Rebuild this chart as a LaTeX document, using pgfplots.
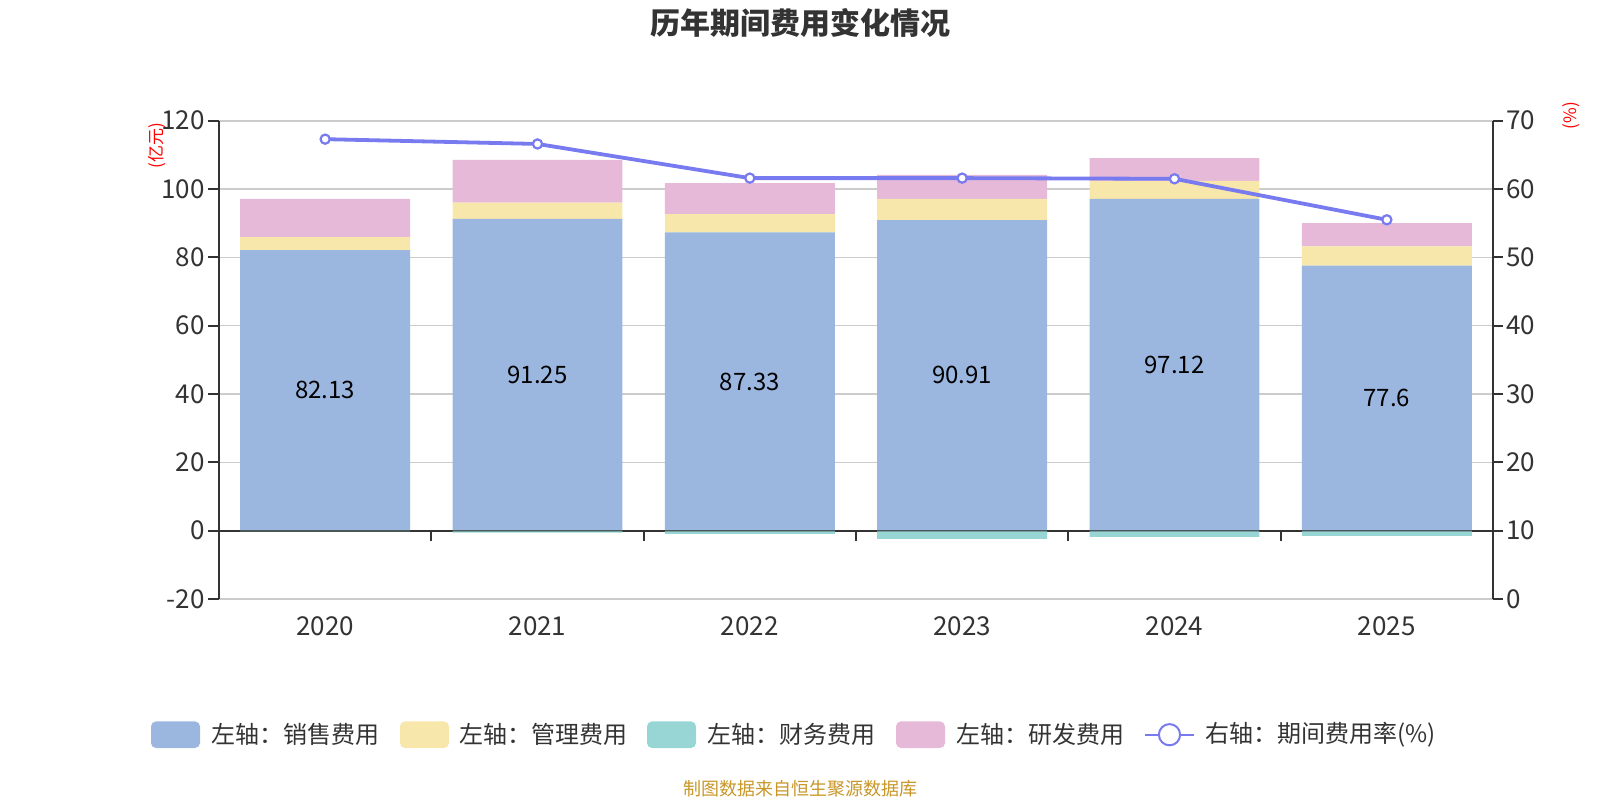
\documentclass[border=0pt]{standalone}
\usepackage{pgfplots}
\pgfplotsset{compat=1.18}
\usepackage{pgfplotstable}
\usepackage{fontspec}
\setmainfont{Noto Sans CJK SC}

\definecolor{cSales}{RGB}{155,183,224}
\definecolor{cAdmin}{RGB}{248,231,170}
\definecolor{cFin}{RGB}{152,213,213}
\definecolor{cRD}{RGB}{230,185,216}
\definecolor{cRate}{RGB}{120,122,240}
\definecolor{cGrid}{RGB}{204,204,204}
\definecolor{cAxis}{RGB}{51,51,51}
\definecolor{cSrc}{RGB}{200,150,40}

% 销售、管理、财务、研发费用（亿元）与期间费用率（%）
\pgfplotstableread{
x year sales admin fin rd rate
0 2020 82.13 3.8 -0.2 11.2 67.3
1 2021 91.25 4.8 -0.6 12.5 66.6
2 2022 87.33 5.3 -0.9 9.1 61.6
3 2023 90.91 6.2 -2.4 7.0 61.6
4 2024 97.12 5.3 -1.8 6.6 61.5
5 2025 77.6 5.6 -1.5 6.8 55.5
}\data

\pgfplotsset{
  base/.style={
    at={(109.5pt,100.5pt)}, anchor=south west,
    scale only axis, width=637pt, height=239.15pt,
    xmin=-0.5, xmax=5.5, ymin=-20, ymax=120,
    enlargelimits=false, clip=false,
    /pgf/number format/assume math mode=true,
    tick label style={font=\fontsize{13}{15}\selectfont, text=cAxis},
  },
}

\begin{document}
\begin{tikzpicture}
\path[use as bounding box] (0,0) rectangle (800pt,400pt);

% 左轴：堆叠柱（销售、管理、研发）
\begin{axis}[base,
  axis x line*=bottom, axis y line*=left,
  x axis line style={draw=cGrid, line width=0.8pt, -},
  y axis line style={draw=cAxis, line width=1pt, -},
  xtick={0,...,5}, xticklabels={2020,2021,2022,2023,2024,2025},
  major x tick style={draw=none},
  xticklabel style={yshift=0pt},
  ytick={-20,0,...,120},
  ymajorgrids, grid style={cGrid, line width=0.8pt},
  tick align=outside, major tick length=5.5pt,
  major y tick style={draw=cAxis, line width=1pt},
  yticklabel style={inner sep=1.5pt},
  ybar stacked, bar width=0.8,
]
\draw[cAxis, line width=1pt] (axis cs:-0.5,0) -- (axis cs:5.5,0);
\addplot[fill=cSales, draw=none] table[x=x, y=sales]{\data};
\addplot[fill=cAdmin, draw=none] table[x=x, y=admin]{\data};
\addplot[fill=cRD, draw=none] table[x=x, y=rd]{\data};
\end{axis}

% 左轴：财务费用（负值，单独绘制）与销售费用数值标签
\begin{axis}[base, hide axis]
\addplot[ybar, bar width=0.8, bar shift=0pt, fill=cFin, draw=none]
  table[x=x, y=fin]{\data};
\draw[cAxis, opacity=0.35, line width=1pt] (axis cs:-0.5,0) -- (axis cs:5.5,0);
\pgfplotsinvokeforeach{0.5,1.5,2.5,3.5,4.5}{
  \draw[cAxis, line width=1pt] (axis cs:#1,0) -- ([yshift=-5pt]axis cs:#1,0);
}
\addplot[draw=none, mark=none, nodes near coords, point meta=explicit symbolic,
  nodes near coords style={anchor=center, font=\fontsize{12}{14}\selectfont, text=black}]
  table[x=x, y expr=\thisrow{sales}/2, meta=sales]{\data};
\end{axis}

% 右轴：期间费用率
\begin{axis}[base, ymin=0, ymax=70,
  axis y line*=right, axis x line=none,
  y axis line style={draw=cAxis, line width=1pt, -},
  ytick={0,10,...,70},
  tick align=outside, major tick length=5pt,
  major y tick style={draw=cAxis, line width=1pt},
  yticklabel style={inner sep=1.5pt},
]
\addplot[cRate, line width=1.9pt, mark=*, mark size=2.3pt,
  mark options={fill=white, draw=cRate, line width=1.1pt}]
  table[x=x, y=rate]{\data};
\end{axis}

% 标题、单位、图例与来源
\node[font=\fontsize{15}{18}\selectfont\bfseries, text=cAxis] at (400pt,388.75pt) {历年期间费用变化情况};
\node[font=\fontsize{8.5}{10}\selectfont, text=red, rotate=90] at (78.5pt,327.25pt) {(亿元)};
\node[font=\fontsize{8.5}{10}\selectfont, text=red, rotate=90] at (785.5pt,342.25pt) {(\%)};

\begin{scope}[font=\fontsize{12}{14}\selectfont]
  \fill[cSales, rounded corners=2.5pt] (75.5pt,26pt) rectangle (100pt,39.3pt);
  \node[anchor=west, inner sep=0pt, text=cAxis] at (105.5pt,32.65pt) {左轴：销售费用};
  \fill[cAdmin, rounded corners=2.5pt] (200pt,26pt) rectangle (224.5pt,39.3pt);
  \node[anchor=west, inner sep=0pt, text=cAxis] at (229.6pt,32.65pt) {左轴：管理费用};
  \fill[cFin, rounded corners=2.5pt] (323.5pt,26pt) rectangle (348pt,39.3pt);
  \node[anchor=west, inner sep=0pt, text=cAxis] at (353.55pt,32.65pt) {左轴：财务费用};
  \fill[cRD, rounded corners=2.5pt] (448pt,26pt) rectangle (472.5pt,39.3pt);
  \node[anchor=west, inner sep=0pt, text=cAxis] at (478.05pt,32.65pt) {左轴：研发费用};
  \draw[cRate, line width=1pt] (572.5pt,32.65pt) -- (597pt,32.65pt);
  \filldraw[fill=white, draw=cRate, line width=1pt] (584.75pt,32.65pt) circle (5.3pt);
  \node[anchor=west, inner sep=0pt, text=cAxis] at (602.55pt,32.65pt) {右轴：期间费用率(\%)};
\end{scope}

\node[font=\fontsize{9}{11}\selectfont, text=cSrc] at (400pt,5.6pt) {制图数据来自恒生聚源数据库};
\end{tikzpicture}
\end{document}
